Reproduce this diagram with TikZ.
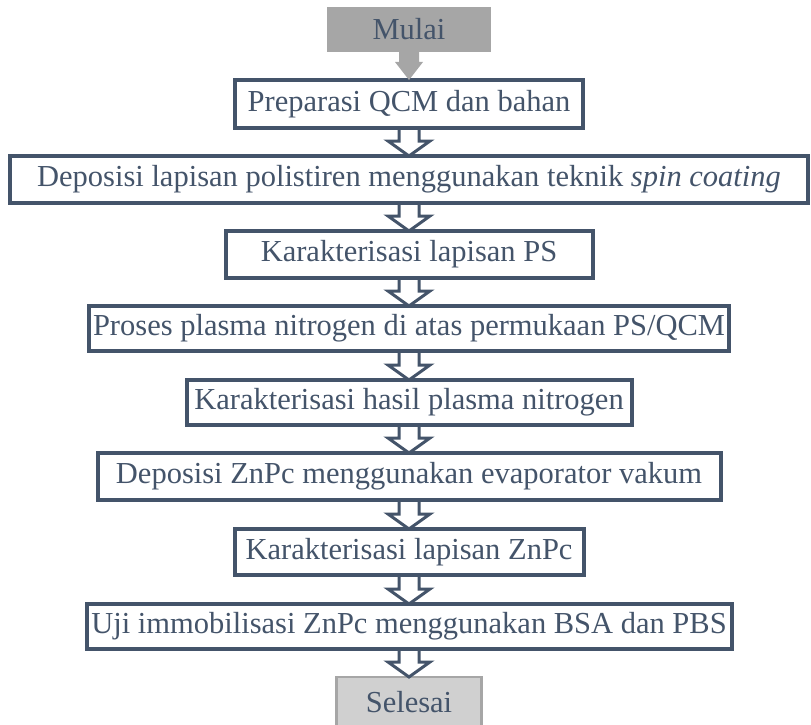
\documentclass[tikz,border=0pt]{standalone}
\usepackage{fontspec}
\setmainfont{Liberation Serif}
\usetikzlibrary{calc}
\definecolor{biru}{HTML}{44546A}
\definecolor{abu}{HTML}{A6A6A6}
\definecolor{abumuda}{HTML}{D0D0D0}
\begin{document}
\begin{tikzpicture}[x=1pt, y=-1pt,
  every node/.style={text=biru, font=\fontsize{30.5}{36}\selectfont, inner sep=0pt, outer sep=0pt},
  kotak/.style={draw=biru, line width=4pt, fill=white, minimum height=47pt},
  panah/.style={draw=biru, line width=3pt, line join=miter,
    to path={let \p1=(\tikztostart), \p2=(\tikztotarget) in
      (\x1-10pt,\y1) -- (\x1-10pt,\y2+15pt) -- (\x1-21pt,\y2+15pt) -- (\x2,\y2)
      -- (\x1+21pt,\y2+15pt) -- (\x1+10pt,\y2+15pt) -- (\x1+10pt,\y1)}},
  panahabu/.style={fill=abu, draw=none,
    to path={let \p1=(\tikztostart), \p2=(\tikztotarget) in
      (\x1-10pt,\y1) -- (\x1-10pt,\y2+18pt) -- (\x1-14pt,\y2+18pt) -- (\x2,\y2)
      -- (\x1+14pt,\y2+18pt) -- (\x1+10pt,\y2+18pt) -- (\x1+10pt,\y1) -- cycle}}]
\useasboundingbox (0,0) rectangle (811,725);
\node[fill=abu, minimum width=164pt, minimum height=45pt] (mulai) at (409,29.5) {Mulai};
\node[kotak, minimum width=348pt, minimum height=48pt] (prep) at (409,104) {Preparasi QCM dan bahan};
\node[kotak, minimum width=798pt] (dps) at (409,179.5) {Deposisi lapisan polistiren menggunakan teknik \textit{spin coating}};
\node[kotak, minimum width=367pt] (karps) at (409,254.5) {Karakterisasi lapisan PS};
\node[kotak, minimum width=640pt, minimum height=45pt] (plasma) at (409,328.5) {Proses plasma nitrogen di atas permukaan PS/QCM};
\node[kotak, minimum width=445pt, minimum height=45pt] (karpl) at (409,402.5) {Karakterisasi hasil plasma nitrogen};
\node[kotak, minimum width=623pt] (dznpc) at (409,476.5) {Deposisi ZnPc menggunakan evaporator vakum};
\node[kotak, minimum width=349pt, minimum height=46pt] (karzn) at (409,552) {Karakterisasi lapisan ZnPc};
\node[kotak, minimum width=645pt, minimum height=45pt] (uji) at (409,626.5) {Uji immobilisasi ZnPc menggunakan BSA dan PBS};
\node[draw=abu, line width=2.5pt, fill=abumuda, minimum width=145pt, minimum height=50pt] (selesai) at (409,702) {Selesai};
\draw[panahabu] (mulai.south) to (prep.north);
\draw[panah] (prep.south) to (dps.north);
\draw[panah] (dps.south) to (karps.north);
\draw[panah] (karps.south) to (plasma.north);
\draw[panah] (plasma.south) to (karpl.north);
\draw[panah] (karpl.south) to (dznpc.north);
\draw[panah] (dznpc.south) to (karzn.north);
\draw[panah] (karzn.south) to (uji.north);
\draw[panah] (uji.south) to (selesai.north);
\end{tikzpicture}
\end{document}
